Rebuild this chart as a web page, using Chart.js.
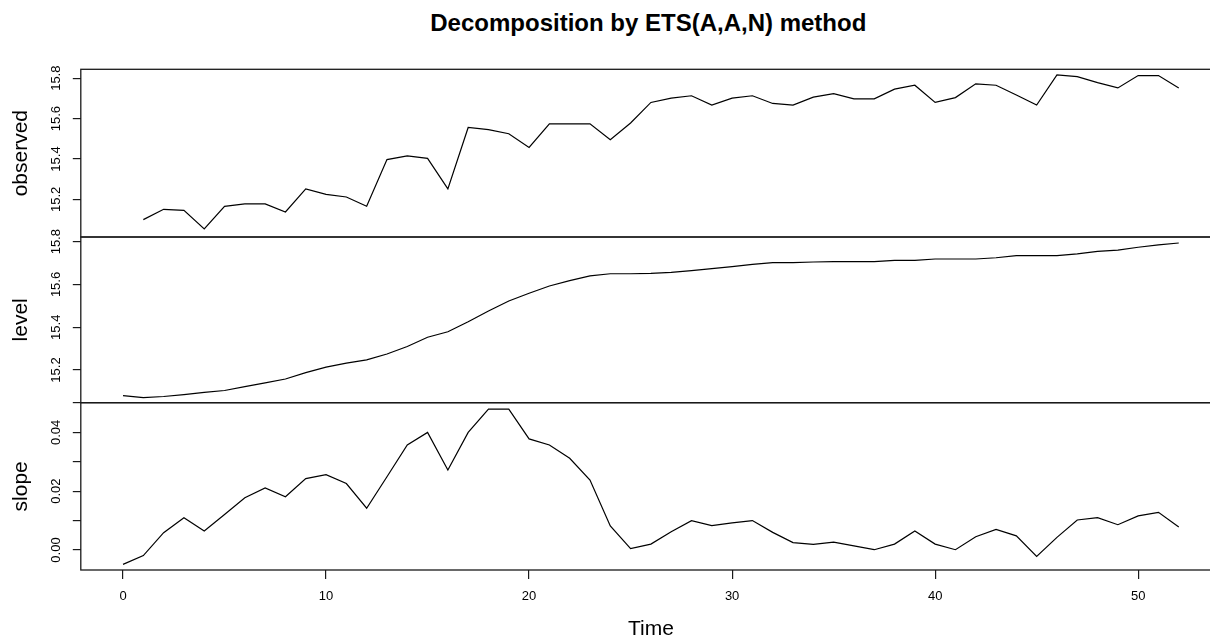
<!DOCTYPE html>
<html>
<head>
<meta charset="utf-8">
<script src="https://cdn.jsdelivr.net/npm/chart.js@4"></script>
<style>
  html, body { margin:0; padding:0; background:#fff; width:1210px; height:642px; overflow:hidden; }
  #title { position:absolute; left:0; top:11.4px; width:1296.6px; text-align:center;
           font:bold 24px "Liberation Sans", Arial, sans-serif; line-height:24px; color:#000; white-space:nowrap; }
  canvas { position:absolute; left:0; }
</style>
</head>
<body>
<div id="title">Decomposition by ETS(A,A,N) method</div>
<canvas id="c1" style="top:0px"></canvas>
<canvas id="c2" style="top:205px"></canvas>
<canvas id="c3" style="top:375px"></canvas>
<script>
const time = [0,1,2,3,4,5,6,7,8,9,10,11,12,13,14,15,16,17,18,19,20,21,22,23,24,25,26,27,28,29,30,31,32,33,34,35,36,37,38,39,40,41,42,43,44,45,46,47,48,49,50,51,52];
const observed = [null,15.100,15.151,15.146,15.054,15.166,15.178,15.178,15.138,15.252,15.225,15.212,15.166,15.397,15.415,15.403,15.252,15.556,15.545,15.525,15.457,15.574,15.574,15.574,15.495,15.578,15.680,15.701,15.713,15.667,15.701,15.713,15.675,15.667,15.706,15.724,15.698,15.698,15.746,15.765,15.680,15.704,15.772,15.765,15.717,15.667,15.816,15.808,15.778,15.752,15.813,15.813,15.752];
const level = [15.080,15.071,15.076,15.085,15.095,15.104,15.122,15.140,15.158,15.188,15.213,15.232,15.247,15.275,15.310,15.353,15.379,15.426,15.476,15.523,15.559,15.593,15.618,15.640,15.650,15.650,15.652,15.657,15.665,15.674,15.683,15.694,15.702,15.702,15.705,15.707,15.707,15.707,15.713,15.713,15.719,15.719,15.719,15.725,15.735,15.735,15.735,15.743,15.755,15.761,15.774,15.785,15.794];
const slope = [-0.0049,-0.0019,0.0059,0.0110,0.0065,0.0121,0.0178,0.0211,0.0181,0.0243,0.0256,0.0226,0.0142,0.0249,0.0357,0.0400,0.0272,0.0400,0.0479,0.0479,0.0378,0.0357,0.0312,0.0238,0.0082,0.0005,0.0020,0.0062,0.0100,0.0083,0.0092,0.0100,0.0060,0.0025,0.0019,0.0027,0.0014,0.0001,0.0020,0.0065,0.0020,0.0001,0.0045,0.0070,0.0048,-0.0022,0.0043,0.0102,0.0110,0.0086,0.0116,0.0128,0.0078];

const xTicks = [0,10,20,30,40,50];
const xTickLabels = ['0','10','20','30','40','50'];
const obsTicks = [15.2,15.4,15.6,15.8];
const obsTickLabels = ['15.2','15.4','15.6','15.8'];
const levelTicks = [15.2,15.4,15.6,15.8];
const levelTickLabels = ['15.2','15.4','15.6','15.8'];
const slopeTicks = [0.00,0.01,0.02,0.03,0.04,0.05];
const slopeTickLabels = ['0.00','','0.02','','0.04',''];

const xRange = [-2.08, 54.08];
const obsRange = [15.014, 15.844];
const levelRange = [15.047, 15.822];
const slopeRange = [-0.0068, 0.0501];

const FONT = '"Liberation Sans", Arial, sans-serif';
Chart.defaults.font.family = FONT;
Chart.defaults.color = '#000';

const framePlugin = {
  id: 'frame',
  afterDraw(chart) {
    const a = chart.chartArea, ctx = chart.ctx;
    ctx.save();
    ctx.strokeStyle = '#1a1a1a';
    ctx.lineWidth = 1.3;
    ctx.strokeRect(a.left, a.top, a.right - a.left, a.bottom - a.top);
    ctx.restore();
  }
};

function makePanel(id, width, height, pad, values, yRange, yTicks, yLabels, yTitle, showX) {
  const cv = document.getElementById(id);
  cv.width = width; cv.height = height;
  cv.style.width = width + 'px'; cv.style.height = height + 'px';
  const pts = time.map((t, i) => ({x: t, y: values[i]}));
  return new Chart(cv, {
    type: 'line',
    data: { datasets: [{ data: pts, borderColor: '#000', borderWidth: 1.2, pointRadius: 0, tension: 0, fill: false, spanGaps: false }] },
    options: {
      responsive: false, animation: false, devicePixelRatio: 1,
      layout: { padding: pad },
      plugins: { legend: { display: false }, tooltip: { enabled: false }, title: { display: false } },
      scales: {
        x: {
          type: 'linear', min: xRange[0], max: xRange[1], display: showX,
          afterBuildTicks: s => { s.ticks = xTicks.map(v => ({value: v})); },
          afterFit: s => { s.height = showX ? 72 : 0; },
          ticks: { font: { size: 13 }, color: '#000', padding: 10, maxRotation: 0, minRotation: 0,
                   callback: (v, i) => xTickLabels[i] },
          grid: { drawOnChartArea: false, drawTicks: true, tickLength: 9, color: '#1a1a1a', lineWidth: 1.2 },
          border: { display: false },
          title: { display: true, text: 'Time', font: { size: 21 }, color: '#000', padding: { top: 0, bottom: 0 } }
        },
        y: {
          type: 'linear', min: yRange[0], max: yRange[1],
          afterBuildTicks: s => { s.ticks = yTicks.map(v => ({value: v})); },
          afterFit: s => { s.width = 80.8; },
          ticks: { font: { size: 13 }, color: '#000', minRotation: 90, maxRotation: 90, crossAlign: 'center', padding: 3.5,
                   callback: (v, i) => yLabels[i] },
          grid: { drawOnChartArea: false, drawTicks: true, tickLength: 8, color: '#1a1a1a', lineWidth: 1.2 },
          border: { display: false },
          title: { display: true, text: yTitle, font: { size: 21 }, color: '#000', padding: { top: 8.4, bottom: 0 } }
        }
      }
    },
    plugins: [framePlugin]
  });
}

// chart areas (page px): observed 69.3-237, level 237-402.7, slope 402.7-570
makePanel('c1', 1222, 262, { top: 69.3, bottom: 25, left: 0, right: 1 }, observed, obsRange, obsTicks, obsTickLabels, 'observed', false);
makePanel('c2', 1222, 225, { top: 32, bottom: 27.3, left: 0, right: 1 }, level, levelRange, levelTicks, levelTickLabels, 'level', false);
makePanel('c3', 1222, 267, { top: 27.7, bottom: 0, left: 0, right: 1 }, slope, slopeRange, slopeTicks, slopeTickLabels, 'slope', true);
</script>
</body>
</html>
